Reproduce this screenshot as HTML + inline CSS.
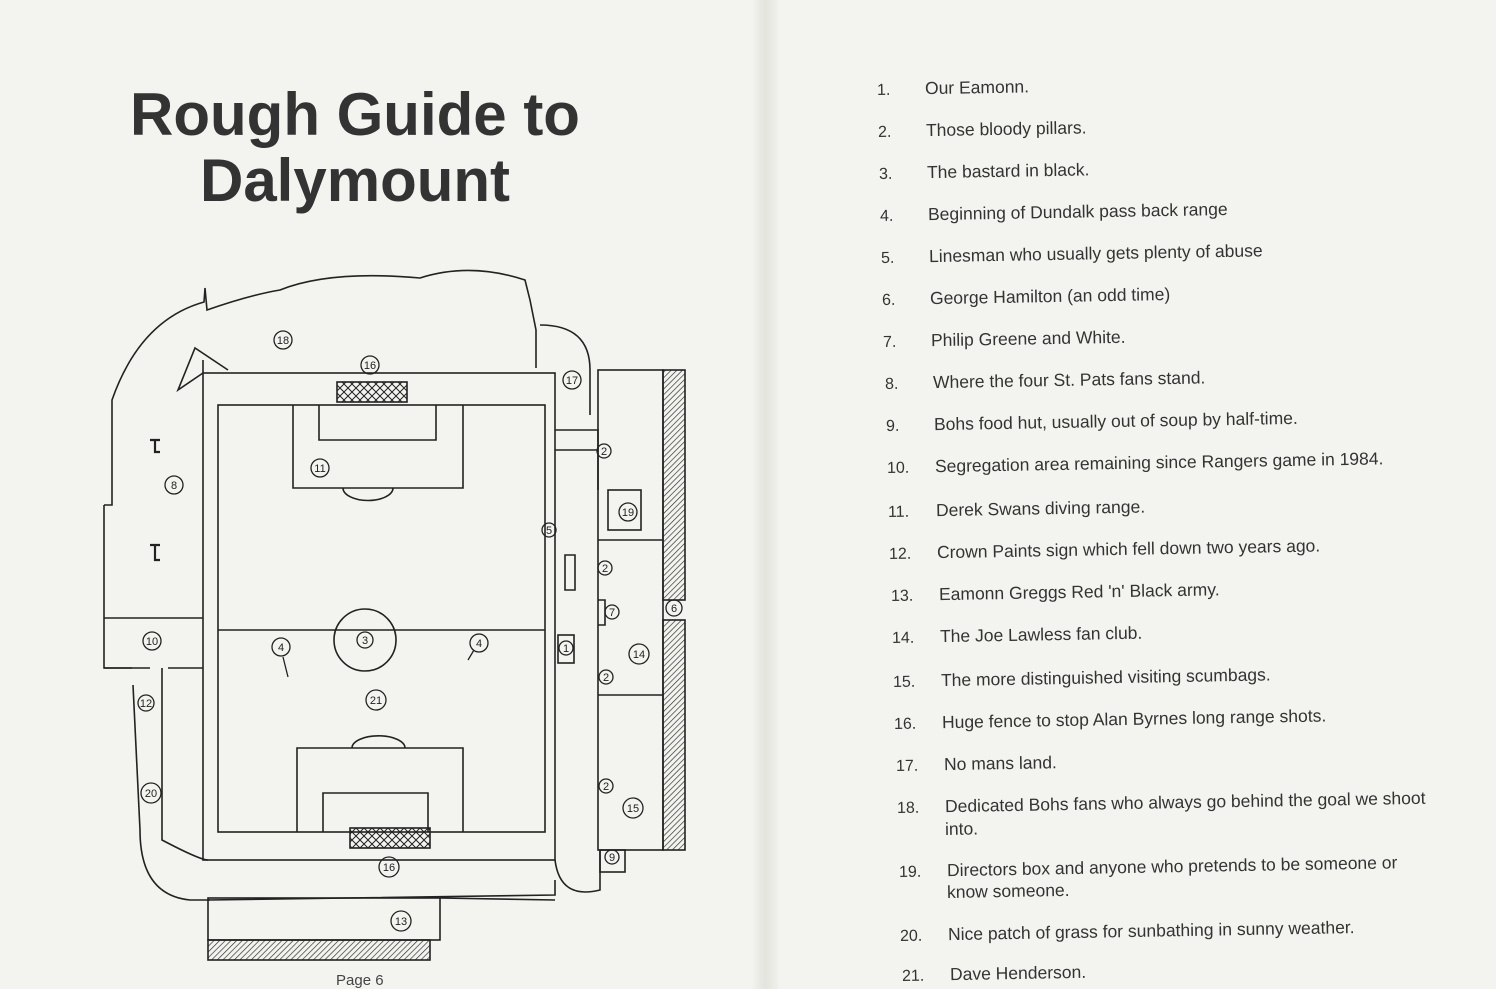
<!DOCTYPE html>
<html><head><meta charset="utf-8"><style>
html,body{margin:0;padding:0;width:1496px;height:989px;overflow:hidden;background:#f3f3ef;}
.t{position:absolute;font-family:"Liberation Sans",Arial,sans-serif;color:#222;}
.title{font-size:60px;font-weight:bold;color:#333;left:0;width:710px;text-align:center;}
.li{position:absolute;font-family:"Liberation Sans",Arial,sans-serif;font-size:17.5px;color:#333;transform:rotate(-1deg);transform-origin:left center;white-space:nowrap;}
.li span{display:inline-block;width:48px;font-size:16px;}
</style></head><body>
<div style="position:absolute;left:752px;top:0;width:26px;height:989px;background:linear-gradient(90deg,#f3f3ef,#e4e4de 50%,#f0f0ea);"></div>
<div class="t title" style="top:80px;">Rough Guide to</div>
<div class="t title" style="top:146px;">Dalymount</div>
<div class="t" style="left:336px;top:972px;font-size:15px;color:#444;">Page 6</div>

<svg width="1496" height="989" style="position:absolute;left:0;top:0" fill="none" stroke="#222" stroke-width="1.6" font-family="Liberation Sans, Arial, sans-serif">
<defs>
<pattern id="x" width="8" height="8" patternUnits="userSpaceOnUse"><path d="M0 0L8 8M8 0L0 8" stroke="#222" stroke-width="1"/></pattern>
<pattern id="h" width="4" height="4" patternUnits="userSpaceOnUse" patternTransform="rotate(45)"><path d="M0 0V4" stroke="#333" stroke-width="1.4"/></pattern>
</defs>
<path d="M203 373 L178 390 L195 348 L228 370 M203 373 L203 360 M104 505 L104 668 L132 668 M104 505 L112 505 L112 400 Q140 320 204 302 L205 288 L207 310 Q250 295 280 290 Q330 270 420 278 Q470 262 525 280 L530 300 L536 330 L536 368 M540 325 Q590 325 590 370 L590 415"/>
<path d="M104 618 L203 618 M104 668 L150 668 M168 668 L203 668 M162 668 L162 840 Q200 860 208 860"/>
<path d="M133 685 L140 830 Q140 895 190 900 L210 900"/>
<rect x="203" y="373" width="352" height="487"/>
<rect x="218" y="405" width="327" height="427"/>
<line x1="218" y1="630" x2="545" y2="630"/>
<ellipse cx="365" cy="640" rx="31" ry="31"/>
<path d="M293 405V488H463V405 M319 405V440H436V405"/>
<path d="M343 488 A24 12 0 0 0 393 488"/>
<path d="M297 832V748H463V832 M323 832V793H428V832"/>
<path d="M352 748 A26 12 0 0 1 405 748"/>
<rect x="337" y="382" width="70" height="20" fill="url(#x)"/>
<rect x="350" y="828" width="80" height="20" fill="url(#x)"/>
<path d="M555 430H598V490 M555 450H598 M555 860 Q560 900 600 890V850 M565 555V590H575V555Z"/>
<rect x="558" y="635" width="16" height="28"/>
<rect x="598" y="370" width="65" height="480"/>
<rect x="663" y="370" width="22" height="230" fill="url(#h)"/>
<rect x="663" y="620" width="22" height="230" fill="url(#h)"/>
<path d="M598 540H663 M598 695H663 M598 600H605V625H598"/>
<rect x="608" y="490" width="33" height="40"/>
<rect x="600" y="850" width="25" height="22"/>
<path d="M208 900 L555 895 L555 880 M440 898 L555 900"/>
<rect x="208" y="898" width="232" height="42"/>
<rect x="208" y="940" width="222" height="20" fill="url(#h)"/>
<path d="M150 440H160M155 440V452H160 M150 545H160M155 545V560H160" stroke-width="2.2"/>
<g font-size="11" stroke-width="1.3" text-anchor="middle">
<g><circle cx="283" cy="340" r="9"/><text x="283" y="344" fill="#222" stroke="none">18</text></g>
<g><circle cx="370" cy="365" r="9"/><text x="370" y="369" fill="#222" stroke="none">16</text></g>
<g><circle cx="572" cy="380" r="9"/><text x="572" y="384" fill="#222" stroke="none">17</text></g>
<g><circle cx="320" cy="468" r="9"/><text x="320" y="472" fill="#222" stroke="none">11</text></g>
<g><circle cx="174" cy="485" r="9"/><text x="174" y="489" fill="#222" stroke="none">8</text></g>
<g><circle cx="604" cy="451" r="7"/><text x="604" y="455" fill="#222" stroke="none">2</text></g>
<g><circle cx="628" cy="512" r="9"/><text x="628" y="516" fill="#222" stroke="none">19</text></g>
<g><circle cx="549" cy="530" r="7"/><text x="549" y="534" fill="#222" stroke="none">5</text></g>
<g><circle cx="605" cy="568" r="7"/><text x="605" y="572" fill="#222" stroke="none">2</text></g>
<g><circle cx="612" cy="612" r="7"/><text x="612" y="616" fill="#222" stroke="none">7</text></g>
<g><circle cx="674" cy="608" r="8"/><text x="674" y="612" fill="#222" stroke="none">6</text></g>
<g><circle cx="152" cy="641" r="9"/><text x="152" y="645" fill="#222" stroke="none">10</text></g>
<g><circle cx="365" cy="640" r="8"/><text x="365" y="644" fill="#222" stroke="none">3</text></g>
<g><circle cx="281" cy="647" r="9"/><text x="281" y="651" fill="#222" stroke="none">4</text></g>
<g><circle cx="479" cy="643" r="9"/><text x="479" y="647" fill="#222" stroke="none">4</text></g>
<g><circle cx="566" cy="648" r="7"/><text x="566" y="652" fill="#222" stroke="none">1</text></g>
<g><circle cx="639" cy="654" r="10"/><text x="639" y="658" fill="#222" stroke="none">14</text></g>
<g><circle cx="606" cy="677" r="7"/><text x="606" y="681" fill="#222" stroke="none">2</text></g>
<g><circle cx="376" cy="700" r="10"/><text x="376" y="704" fill="#222" stroke="none">21</text></g>
<g><circle cx="146" cy="703" r="8"/><text x="146" y="707" fill="#222" stroke="none">12</text></g>
<g><circle cx="151" cy="793" r="10"/><text x="151" y="797" fill="#222" stroke="none">20</text></g>
<g><circle cx="606" cy="786" r="7"/><text x="606" y="790" fill="#222" stroke="none">2</text></g>
<g><circle cx="633" cy="808" r="10"/><text x="633" y="812" fill="#222" stroke="none">15</text></g>
<g><circle cx="389" cy="867" r="10"/><text x="389" y="871" fill="#222" stroke="none">16</text></g>
<g><circle cx="612" cy="857" r="7"/><text x="612" y="861" fill="#222" stroke="none">9</text></g>
<g><circle cx="401" cy="921" r="10"/><text x="401" y="925" fill="#222" stroke="none">13</text></g>
</g>
<path d="M283 657L288 677M468 660L474 650" stroke-width="1.3"/>
</svg>

<div class="li" style="left:877px;top:79px"><span>1.</span>Our Eamonn.</div>
<div class="li" style="left:878px;top:121px"><span>2.</span>Those bloody pillars.</div>
<div class="li" style="left:879px;top:163px"><span>3.</span>The bastard in black.</div>
<div class="li" style="left:880px;top:205px"><span>4.</span>Beginning of Dundalk pass back range</div>
<div class="li" style="left:881px;top:247px"><span>5.</span>Linesman who usually gets plenty of abuse</div>
<div class="li" style="left:882px;top:289px"><span>6.</span>George Hamilton (an odd time)</div>
<div class="li" style="left:883px;top:331px"><span>7.</span>Philip Greene and White.</div>
<div class="li" style="left:885px;top:373px"><span>8.</span>Where the four St. Pats fans stand.</div>
<div class="li" style="left:886px;top:415px"><span>9.</span>Bohs food hut, usually out of soup by half-time.</div>
<div class="li" style="left:887px;top:457px"><span>10.</span>Segregation area remaining since Rangers game in 1984.</div>
<div class="li" style="left:888px;top:501px"><span>11.</span>Derek Swans diving range.</div>
<div class="li" style="left:889px;top:543px"><span>12.</span>Crown Paints sign which fell down two years ago.</div>
<div class="li" style="left:891px;top:585px"><span>13.</span>Eamonn Greggs Red 'n' Black army.</div>
<div class="li" style="left:892px;top:627px"><span>14.</span>The Joe Lawless fan club.</div>
<div class="li" style="left:893px;top:671px"><span>15.</span>The more distinguished visiting scumbags.</div>
<div class="li" style="left:894px;top:713px"><span>16.</span>Huge fence to stop Alan Byrnes long range shots.</div>
<div class="li" style="left:896px;top:755px"><span>17.</span>No mans land.</div>
<div class="li" style="left:897px;top:797px"><span>18.</span>Dedicated Bohs fans who always go behind the goal we shoot</div>
<div class="li" style="left:945px;top:819px">into.</div>
<div class="li" style="left:899px;top:861px"><span>19.</span>Directors box and anyone who pretends to be someone or</div>
<div class="li" style="left:947px;top:882px">know someone.</div>
<div class="li" style="left:900px;top:925px"><span>20.</span>Nice patch of grass for sunbathing in sunny weather.</div>
<div class="li" style="left:902px;top:965px"><span>21.</span>Dave Henderson.</div>
</body></html>
